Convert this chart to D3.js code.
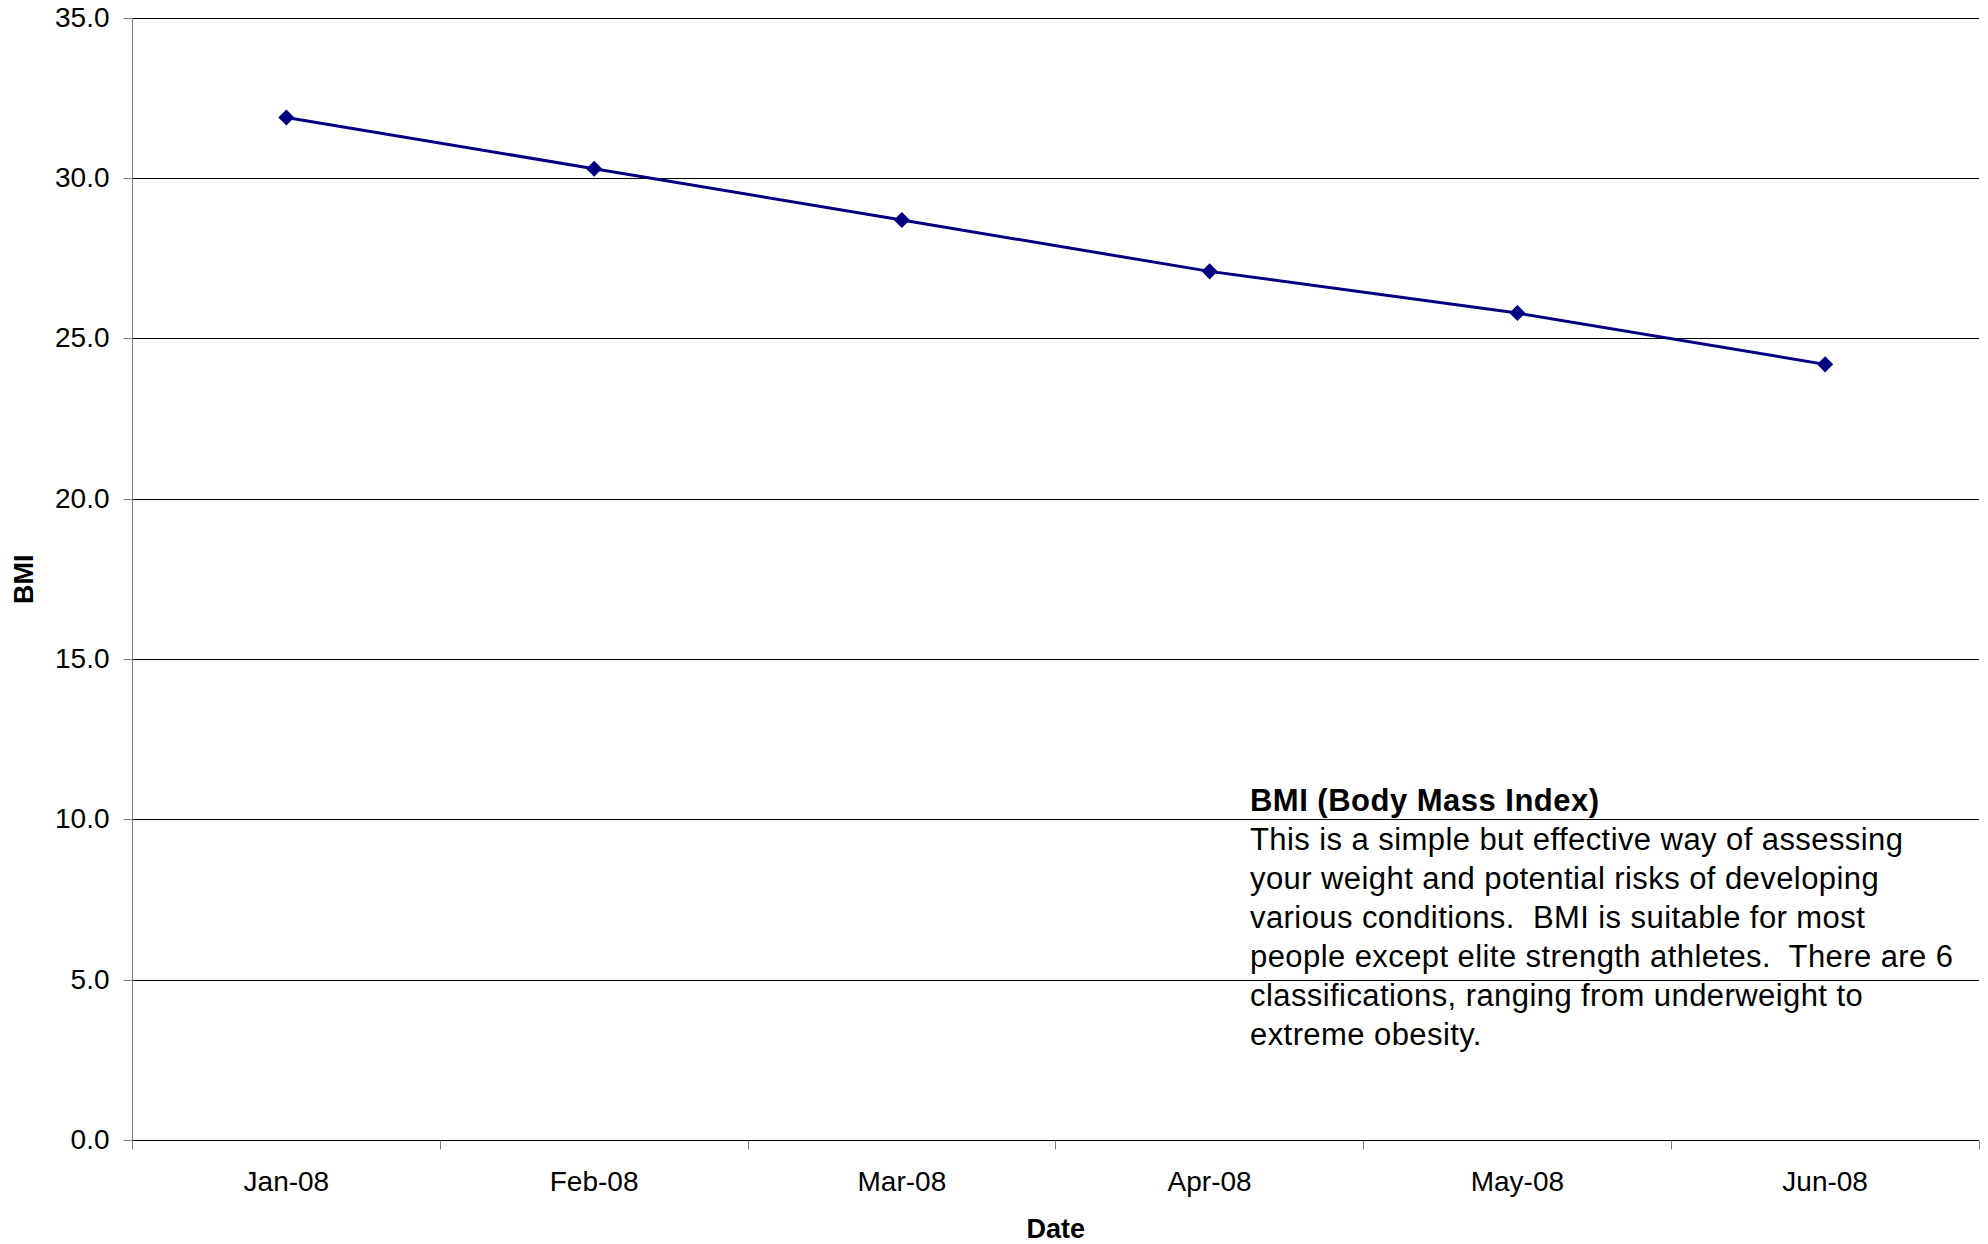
<!DOCTYPE html>
<html>
<head>
<meta charset="utf-8">
<script src="https://cdn.jsdelivr.net/npm/d3@7"></script>
<style>
  body { margin: 0; background: #fff; }
  text { font-family: "Liberation Sans", Arial, sans-serif; fill: #000; }
</style>
</head>
<body>
<svg id="chart" width="1988" height="1244"></svg>
<script>
// BMI readings by month
const months = ["Jan-08", "Feb-08", "Mar-08", "Apr-08", "May-08", "Jun-08"];
const bmi = [31.9, 30.3, 28.7, 27.1, 25.8, 24.2];
const yTicks = [0, 5, 10, 15, 20, 25, 30, 35];
const xTitle = "Date";
const yTitle = "BMI";
const noteTitle = "BMI (Body Mass Index)";
const noteLines = [
  "This is a simple but effective way of assessing",
  "your weight and potential risks of developing",
  "various conditions.  BMI is suitable for most",
  "people except elite strength athletes.  There are 6",
  "classifications, ranging from underweight to",
  "extreme obesity."
];

const svg = d3.select("#chart");
const plot = { left: 132.5, right: 1979, top: 18, bottom: 1140.5 };

const x = d3.scaleBand().domain(months).range([plot.left, plot.right]).padding(0);
const y = d3.scaleLinear().domain([0, 35]).range([plot.bottom, plot.top]);
const crisp = v => Math.round(v - 0.5) + 0.5;

// horizontal gridlines
svg.append("g").selectAll("line").data(yTicks.filter(d => d > 0)).join("line")
  .attr("x1", plot.left).attr("x2", plot.right)
  .attr("y1", d => crisp(y(d))).attr("y2", d => crisp(y(d)))
  .attr("stroke", "#000").attr("stroke-width", 1);

// y axis
const yAxis = svg.append("g").attr("transform", `translate(${crisp(plot.left)},0)`)
  .call(d3.axisLeft(y).tickValues(yTicks).tickFormat(d3.format(".1f")).tickSize(9).tickPadding(14))
  .call(g => g.select(".domain").attr("stroke", "#808080").attr("d", `M0,${plot.top}V${crisp(plot.bottom)}`));
yAxis.selectAll(".tick line").attr("stroke", "#808080");
yAxis.selectAll(".tick").attr("transform", d => `translate(0,${crisp(y(d))})`);
yAxis.selectAll(".tick text").attr("font-size", 28).attr("font-family", "Liberation Sans, Arial, sans-serif").attr("fill", "#000");

// x axis: ticks on category boundaries, labels at category centres
const xg = svg.append("g").attr("transform", `translate(0,${crisp(plot.bottom)})`);
xg.append("line").attr("x1", plot.left).attr("x2", plot.right).attr("stroke", "#000");
const bounds = months.map(m => x(m)).concat([x(months[months.length - 1]) + x.bandwidth()]);
xg.selectAll("line.tk").data(bounds).join("line").attr("class", "tk")
  .attr("x1", d => crisp(d)).attr("x2", d => crisp(d)).attr("y1", 0).attr("y2", 9)
  .attr("stroke", "#808080");
xg.selectAll("text").data(months).join("text")
  .attr("x", d => x(d) + x.bandwidth() / 2).attr("y", 50)
  .attr("text-anchor", "middle").attr("font-size", 28).text(d => d);

// axis titles
svg.append("text").attr("x", (plot.left + plot.right) / 2).attr("y", 1238)
  .attr("text-anchor", "middle").attr("font-size", 27).attr("font-weight", "bold").text(xTitle);
svg.append("text").attr("transform", `translate(33,${(plot.top + plot.bottom) / 2}) rotate(-90)`)
  .attr("text-anchor", "middle").attr("font-size", 27).attr("font-weight", "bold").text(yTitle);

// series line and diamond markers
const cx = d => x(d) + x.bandwidth() / 2;
const pts = months.map((m, i) => [cx(m), y(bmi[i])]);
svg.append("path").datum(pts).attr("d", d3.line())
  .attr("fill", "none").attr("stroke", "#000080").attr("stroke-width", 3);
svg.append("g").selectAll("path").data(pts).join("path")
  .attr("d", d3.symbol(d3.symbolDiamond2, 165))
  .attr("transform", d => `translate(${d[0]},${d[1]})`)
  .attr("fill", "#000080");

// explanatory note; letter spacing widened to the note box's set width
function spreadTo(sel, width) {
  const node = sel.node();
  const n = node.textContent.length;
  const w = node.getComputedTextLength();
  return (width - w) / Math.max(1, n - 1);
}
const noteX = 1250;
const t = svg.append("text").attr("x", noteX).attr("y", 811)
  .attr("font-size", 31).attr("font-weight", "bold").text(noteTitle);
t.attr("letter-spacing", spreadTo(t, 349));

const body = svg.append("g");
const lines = body.selectAll("text").data(noteLines).join("text")
  .attr("x", noteX).attr("y", (d, i) => 850 + i * 39)
  .attr("font-size", 31).style("white-space", "pre").text(d => d);
const ls = spreadTo(body.select("text"), 653);
lines.attr("letter-spacing", ls);
</script>
</body>
</html>
